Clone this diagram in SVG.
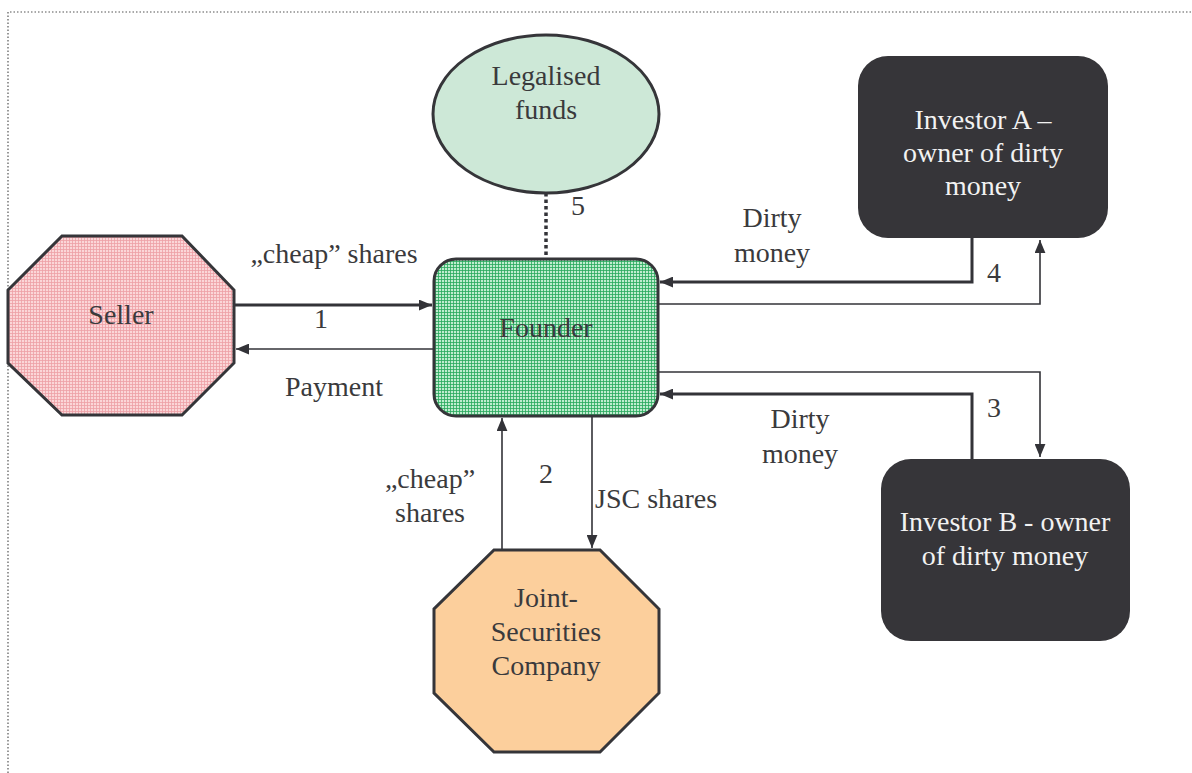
<svg xmlns="http://www.w3.org/2000/svg" width="1192" height="773" viewBox="0 0 1192 773">
<defs>
<pattern id="pinkGrid" width="3" height="3" patternUnits="userSpaceOnUse">
<rect width="3" height="3" fill="#fbd6d8"/>
<path d="M0 0.5H3M0.5 0V3" stroke="#ee9fa6" stroke-width="0.8"/>
</pattern>
<pattern id="greenGrid" width="3" height="3" patternUnits="userSpaceOnUse">
<rect width="3" height="3" fill="#bfeccf"/>
<path d="M0 0.5H3M0.5 0V3" stroke="#27a85c" stroke-width="0.8"/>
</pattern>
<marker id="arr" viewBox="0 0 12 10" refX="12" refY="5" markerWidth="13" markerHeight="11" markerUnits="userSpaceOnUse" orient="auto">
<path d="M0 0L12 5L0 10Z" fill="#333338"/>
</marker>
</defs>
<style>
text{font-family:"Liberation Serif","Times New Roman",serif;font-size:28px;fill:#3a3a3c;text-anchor:middle}
.light{fill:#f2f2f2}
.lbl{font-size:28px}
.node{stroke:#353539;stroke-width:3}
.thick{stroke:#333338;stroke-width:3;fill:none}
.thin{stroke:#333338;stroke-width:1.6;fill:none}
</style>
<rect width="1192" height="773" fill="#ffffff"/>
<path d="M8 773V12H1192" fill="none" stroke="#555" stroke-width="1.2" stroke-dasharray="1.5 2"/>

<g id="connectors">
<path class="thick" d="M234 305H432" marker-end="url(#arr)"/>
<path class="thin" d="M434 349H236" marker-end="url(#arr)"/>
<path class="thick" d="M972 238V282H660" marker-end="url(#arr)"/>
<path class="thin" d="M658 304H1040V240" marker-end="url(#arr)"/>
<path class="thin" d="M658 372H1040V457" marker-end="url(#arr)"/>
<path class="thick" d="M972 459V394H660" marker-end="url(#arr)"/>
<path class="thin" d="M502 550V418" marker-end="url(#arr)"/>
<path class="thin" d="M592 416V548" marker-end="url(#arr)"/>
<path d="M546 193V259" stroke="#333338" stroke-width="3.5" stroke-dasharray="3.5 3" fill="none"/>
<text x="334" y="263">„cheap” shares</text>
<text x="321" y="328">1</text>
<text x="334" y="396">Payment</text>
<text x="578" y="215">5</text>
<text x="772" y="227">Dirty</text>
<text x="772" y="262">money</text>
<text x="994" y="282">4</text>
<text x="994" y="417">3</text>
<text x="800" y="428">Dirty</text>
<text x="800" y="463">money</text>
<text x="546" y="483">2</text>
<text x="595" y="508" style="text-anchor:start">JSC shares</text>
<text x="430" y="488">„cheap”</text>
<text x="430" y="522">shares</text>
</g>

<g id="legalised-funds">
<ellipse class="node" cx="546" cy="114" rx="113" ry="79" fill="#cde8d7"/>
<text x="546" y="85">Legalised</text>
<text x="546" y="119">funds</text>
</g>

<g id="seller">
<polygon class="node" points="62,236 182,236 234,290 234,363 182,415 62,415 8,363 8,290" fill="url(#pinkGrid)"/>
<text x="121" y="324">Seller</text>
</g>

<g id="founder">
<rect class="node" x="434" y="259" width="224" height="157" rx="22" fill="url(#greenGrid)" stroke-width="2"/>
<text x="546" y="337">Founder</text>
</g>

<g id="investor-a">
<rect x="858" y="56" width="250" height="182" rx="30" fill="#363539"/>
<text class="light" x="983" y="129">Investor A –</text>
<text class="light" x="983" y="162">owner of dirty</text>
<text class="light" x="983" y="195">money</text>
</g>

<g id="investor-b">
<rect x="881" y="459" width="249" height="182" rx="30" fill="#363539"/>
<text class="light" x="1005" y="531">Investor B - owner</text>
<text class="light" x="1005" y="565">of dirty money</text>
</g>

<g id="joint-securities">
<polygon class="node" points="494,550 600,550 659,609 659,693 600,752 494,752 434,693 434,609" fill="#fccf9c"/>
<text x="546" y="607">Joint-</text>
<text x="546" y="641">Securities</text>
<text x="546" y="675">Company</text>
</g>
</svg>
